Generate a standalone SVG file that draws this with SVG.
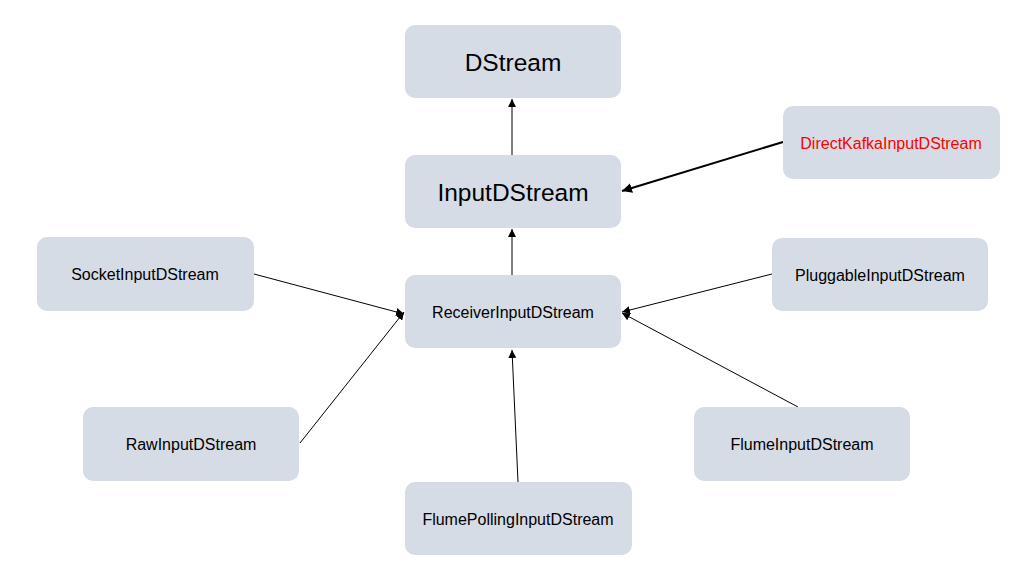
<svg xmlns="http://www.w3.org/2000/svg" width="1024" height="586" viewBox="0 0 1024 586">
<style>
.box{fill:#D6DCE5;}
.t{font-family:"Liberation Sans",Arial,sans-serif;fill:#000;text-anchor:middle;dominant-baseline:central;}
.s{font-size:16px;}
.l{font-size:24.5px;}
.c{stroke:#000;stroke-width:1;fill:none;}
.c.thick{stroke-width:2;}
</style>
<defs>
<marker id="ah" viewBox="0 0 10 10" refX="10" refY="5" markerWidth="8" markerHeight="8" markerUnits="userSpaceOnUse" orient="auto">
<path d="M0,0 L10,5 L0,10 z" fill="#000"/>
</marker>
<marker id="ah2" viewBox="0 0 10 10" refX="10" refY="5" markerWidth="10" markerHeight="10" markerUnits="userSpaceOnUse" orient="auto">
<path d="M0,0 L10,5 L0,10 z" fill="#000"/>
</marker>
</defs>
<rect width="1024" height="586" fill="#fff"/>
<g id="connectors">
<line class="c" x1="512" y1="155" x2="512" y2="99" marker-end="url(#ah)"/>
<line class="c" x1="512" y1="275" x2="512" y2="229" marker-end="url(#ah)"/>
<line class="c thick" x1="783" y1="142" x2="622" y2="191" marker-end="url(#ah2)"/>
<line class="c" x1="254" y1="274" x2="404" y2="314" marker-end="url(#ah)"/>
<line class="c" x1="300" y1="443" x2="404" y2="312" marker-end="url(#ah)"/>
<line class="c" x1="772" y1="274" x2="622" y2="312" marker-end="url(#ah)"/>
<line class="c" x1="798" y1="407" x2="622" y2="313" marker-end="url(#ah)"/>
<line class="c" x1="518" y1="482" x2="512" y2="350" marker-end="url(#ah)"/>
</g>
<g id="n-dstream"><rect class="box" x="405" y="25" width="216" height="73" rx="10"/><text class="t l" x="513" y="62">DStream</text></g>
<g id="n-input"><rect class="box" x="405" y="155" width="216" height="73" rx="10"/><text class="t l" x="513" y="192">InputDStream</text></g>
<g id="n-kafka"><rect class="box" x="783" y="106" width="217" height="73" rx="10"/><text class="t s" x="891" y="143" style="fill:#FF0000">DirectKafkaInputDStream</text></g>
<g id="n-receiver"><rect class="box" x="405" y="275" width="216" height="73" rx="10"/><text class="t s" x="513" y="312">ReceiverInputDStream</text></g>
<g id="n-socket"><rect class="box" x="37" y="237" width="217" height="74" rx="10"/><text class="t s" x="145" y="274">SocketInputDStream</text></g>
<g id="n-pluggable"><rect class="box" x="772" y="238" width="216" height="73" rx="10"/><text class="t s" x="880" y="275">PluggableInputDStream</text></g>
<g id="n-raw"><rect class="box" x="83" y="407" width="216" height="74" rx="10"/><text class="t s" x="191" y="444">RawInputDStream</text></g>
<g id="n-flume"><rect class="box" x="694" y="407" width="216" height="74" rx="10"/><text class="t s" x="802" y="444">FlumeInputDStream</text></g>
<g id="n-polling"><rect class="box" x="405" y="482" width="227" height="73" rx="10"/><text class="t s" x="518" y="519">FlumePollingInputDStream</text></g>
</svg>
